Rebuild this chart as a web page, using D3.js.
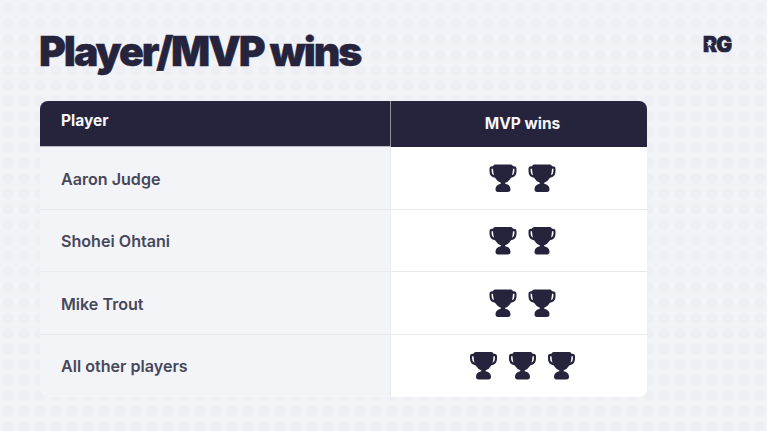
<!DOCTYPE html>
<html lang="en">
    <head>
        <meta charset="utf-8">
        <title>Player/MVP wins</title>
        <script src="https://cdn.jsdelivr.net/npm/d3@7"></script>
        <style>
            html, body { margin: 0; padding: 0; background: #f2f3f7; overflow: hidden; }
            text { font-family: Inter, "Noto Sans", sans-serif; }
        </style>
    </head>
    <body>
        <script>
            // table content
            var title = "Player/MVP wins";
            var columns = ["Player", "MVP wins"];
            var players = ["Aaron Judge", "Shohei Ohtani", "Mike Trout", "All other players"];
            var wins = [2, 2, 2, 3];

            var w = 767;
            var h = 431;
            var dark = "#26243c";
            var paper = "#f2f3f7";

            var svg = d3.select("body").append("svg")
                .attr("width", w)
                .attr("height", h)
                .style("display", "block");

            // very faint dotted backdrop
            var defs = svg.append("defs");
            var dots = defs.append("pattern")
                .attr("id", "dots")
                .attr("width", 16)
                .attr("height", 15.5)
                .attr("patternUnits", "userSpaceOnUse");
            dots.append("circle")
                .attr("cx", 8).attr("cy", 8).attr("r", 5.5)
                .attr("fill", "#ecedf2");
            svg.append("rect").attr("width", w).attr("height", h).attr("fill", paper);
            svg.append("rect").attr("width", w).attr("height", h).attr("fill", "url(#dots)").attr("opacity", 0.6);

            svg.append("text")
                .attr("x", 39)
                .attr("y", 66)
                .attr("font-size", 41)
                .attr("font-weight", 900)
                .attr("letter-spacing", "-2.05px")
                .attr("fill", dark)
                .attr("stroke", dark)
                .attr("stroke-width", 0.4)
                .text(title);

            // logo, thickened text with the star punched through the R
            svg.append("text")
                .attr("x", 703)
                .attr("y", 51.5)
                .attr("font-size", 21)
                .attr("font-weight", 900)
                .attr("letter-spacing", "-0.9px")
                .attr("fill", dark)
                .attr("stroke", dark)
                .attr("stroke-width", 0.7)
                .text("RG");
            svg.append("path")
                .attr("d", d3.symbol(d3.symbolStar, 16)())
                .attr("transform", "translate(709.5,43.5)")
                .attr("fill", paper);

            // scales for the table
            var tableLeft = 40, tableRight = 647, split = 391;
            var headTop = 101, headBottom = 147, tableBottom = 397;

            var y = d3.scaleBand().domain(players).range([headBottom, tableBottom]);
            var cellStep = 39;

            defs.append("clipPath").attr("id", "card")
                .append("rect")
                .attr("x", tableLeft).attr("y", headTop)
                .attr("width", tableRight - tableLeft).attr("height", tableBottom - headTop)
                .attr("rx", 8);

            var table = svg.append("g").attr("clip-path", "url(#card)");

            table.append("rect")
                .attr("x", tableLeft).attr("y", headBottom)
                .attr("width", split - tableLeft).attr("height", tableBottom - headBottom)
                .attr("fill", "#f3f4f8");
            table.append("rect")
                .attr("x", split).attr("y", headBottom)
                .attr("width", tableRight - split).attr("height", tableBottom - headBottom)
                .attr("fill", "#ffffff");
            table.append("rect")
                .attr("x", tableLeft).attr("y", headTop)
                .attr("width", tableRight - tableLeft).attr("height", headBottom - headTop)
                .attr("fill", dark);

            // row and column rules
            table.selectAll("line.row")
                .data(players.slice(1))
                .enter()
                .append("line")
                .attr("class", "row")
                .attr("x1", tableLeft).attr("x2", tableRight)
                .attr("y1", function(d) { return Math.floor(y(d) - 0.5) + 0.5; })
                .attr("y2", function(d) { return Math.floor(y(d) - 0.5) + 0.5; })
                .attr("stroke", "#e8e9ee");
            table.append("line")
                .attr("x1", split - 0.5).attr("x2", split - 0.5)
                .attr("y1", headTop).attr("y2", headBottom)
                .attr("stroke", "#8f8fa0");
            table.append("line")
                .attr("x1", split - 0.5).attr("x2", split - 0.5)
                .attr("y1", headBottom).attr("y2", tableBottom)
                .attr("stroke", "#e8e9ee");
            table.append("line")
                .attr("x1", tableLeft).attr("x2", split)
                .attr("y1", headBottom - 0.5).attr("y2", headBottom - 0.5)
                .attr("stroke", "#b9b9c6");

            // header labels
            svg.append("text")
                .attr("x", 61).attr("y", 126)
                .attr("font-size", 15.5).attr("font-weight", 700)
                .attr("fill", "#f6f6fa")
                .text(columns[0]);
            svg.append("text")
                .attr("x", (split + tableRight) / 2 + 3.5).attr("y", 129)
                .attr("text-anchor", "middle")
                .attr("font-size", 15.5).attr("font-weight", 700)
                .attr("fill", "#f6f6fa")
                .text(columns[1]);

            // player names
            svg.selectAll("text.player")
                .data(players)
                .enter()
                .append("text")
                .attr("class", "player")
                .attr("x", 61)
                .attr("y", function(d) { return y(d) + y.bandwidth() / 2 + 6.5; })
                .attr("font-size", 16.1)
                .attr("font-weight", 600)
                .attr("fill", "#47475a")
                .text(function(d) { return d; });

            // trophy, centred on 0,0 and about 27px across
            var trophy = "M-8,-13.7 H8 Q9.5,-13.7 10,-12 H11 Q13.5,-12 13.5,-9.5 V-7 Q13.5,-1.5 8,-0.5 Q5.5,3.5 2.2,4.5 V5.5 " +
                "Q7.5,6.5 7.5,11 Q7.5,13.7 5,13.7 H-5 Q-7.5,13.7 -7.5,11 Q-7.5,6.5 -2.2,5.5 V4.5 Q-5.5,3.5 -8,-0.5 " +
                "Q-13.5,-1.5 -13.5,-7 V-9.5 Q-13.5,-12 -11,-12 H-10 Q-9.5,-13.7 -8,-13.7 Z " +
                "M-11.4,-9.5 V-7 Q-11.4,-4 -9,-3 Q-9.8,-6 -10,-9.5 Z M11.4,-9.5 H10 Q9.8,-6 9,-3 Q11.4,-4 11.4,-7 Z";

            var rows = svg.selectAll("g.trophies")
                .data(players)
                .enter()
                .append("g")
                .attr("class", "trophies")
                .attr("transform", function(d) { return "translate(0," + (y(d) + y.bandwidth() / 2) + ")"; });

            rows.each(function(d, i) {
                var n = wins[i];
                var mid = (split + tableRight) / 2 + 3.5;
                var x = d3.scaleLinear()
                    .domain([0, n - 1])
                    .range([mid - cellStep * (n - 1) / 2, mid + cellStep * (n - 1) / 2]);
                d3.select(this).selectAll("path")
                    .data(d3.range(n))
                    .enter()
                    .append("path")
                    .attr("d", trophy)
                    .attr("fill-rule", "evenodd")
                    .attr("fill", dark)
                    .attr("transform", function(k) { return "translate(" + x(k) + ",0)"; });
            });
        </script>
    </body>
</html>
